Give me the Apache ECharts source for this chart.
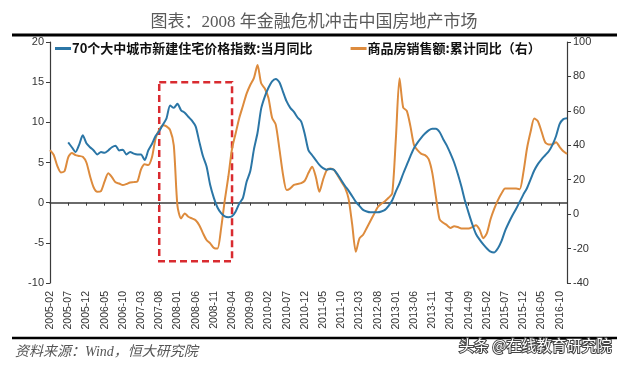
<!DOCTYPE html>
<html>
<head>
<meta charset="utf-8">
<script src="https://cdn.jsdelivr.net/npm/echarts@6/dist/echarts.min.js"></script>
<style>html,body{margin:0;padding:0;background:#fff;}#c{width:628px;height:365px;}</style>
</head>
<body>
<div id="c"></div>
<script>
// Months 2005-02 .. 2016-12
const months = [];
for (let y = 2005; y <= 2016; y++) {
  for (let m = 1; m <= 12; m++) {
    if (y === 2005 && m < 2) continue;
    months.push(y + '-' + (m < 10 ? '0' + m : m));
  }
}

const seriesNames = ['70个大中城市新建住宅价格指数:当月同比', '商品房销售额:累计同比（右）'];

// 70个大中城市新建住宅价格指数:当月同比 (%), left axis
const priceIndex = [
  null, null, null, null, null,
  7.5, 6.9, 6.3, 7.2, 8.4, 7.4, 6.9, 6.5, 6.0, 6.3,
  6.2, 6.5, 6.9, 7.1, 6.5, 6.6, 6.0, 6.3, 6.1, 6.0,
  6.0, 5.3, 6.5, 7.3, 8.3, 8.9, 9.7, 10.5, 12.1, 11.8,
  12.3, 11.5, 11.2, 10.7, 10.2, 9.5, 7.6, 5.8, 4.5, 2.2,
  0.6, -0.6, -1.3, -1.7, -1.8, -1.7, -1.1, -0.1, 0.6, 2.6,
  3.9, 6.6, 8.7, 11.7, 13.2, 14.3, 15.1, 15.4, 15.0, 13.8,
  12.6, 11.8, 11.3, 10.6, 10.1, 8.5, 6.5, 5.9, 5.3, 4.7,
  4.3, 4.1, 4.2, 4.1, 3.5, 2.8, 2.1, 1.5, 0.8, 0.1,
  -0.4, -0.9, -1.1, -1.2, -1.2, -1.2, -1.1, -0.9, -0.4, 0.3,
  1.4, 2.4, 3.6, 4.7, 5.8, 6.8, 7.5, 8.1, 8.6, 9.0,
  9.2, 9.2, 8.8, 7.9, 7.1, 6.1, 5.0, 3.6, 2.0, 0.2,
  -1.3, -2.7, -3.9, -4.6, -5.2, -5.7, -6.1, -6.2, -5.7, -4.8,
  -3.5, -2.5, -1.6, -0.8, 0.1, 1.0, 1.8, 2.9, 4.0, 4.8,
  5.4, 5.9, 6.4, 7.2, 8.3, 9.8, 10.4, 10.5
];

// 商品房销售额:累计同比 (%), right axis
const salesYoY = [
  37.2, 34.5, 28, 24.2, 25, 33, 35.5, 34.3, 33.8, 33.3,
  30, 22, 15.5, 13, 13.4, 19, 23.7, 21.5, 18.5, 17.8,
  16.9, 17.5, 18.4, 18.6, 19, 26, 29, 28.5, 33, 44,
  49, 51.7, 51, 48.8, 40, 5, -2.5, 0.4, -1.5, -2.5,
  -3.5, -6.4, -11, -15, -17, -19.6, -20, -8.3, 8, 22,
  38, 47, 56, 63, 70, 75, 79, 86.6, 76, 73,
  67.5, 56, 52, 38, 23, 14, 15, 17, 17.5, 18,
  19.5, 24, 27.5, 21.7, 13, 20, 25.5, 26.5, 25.6, 22.5,
  19, 15.5, 9, -6, -21.9, -14.1, -12, -8, -4, 0,
  4, 6, 7.5, 9.5, 12, 44, 78.9, 62, 60, 51,
  40, 37, 35, 34.3, 32, 24, 10, -3, -5, -6.4,
  -8, -7, -7.5, -8.3, -8.3, -8.3, -7.5, -6.4, -9, -14,
  -11, -3, 3, 8, 12, 14.9, 14.9, 14.9, 14.9, 14.5,
  24, 38, 47.8, 55.6, 54, 48, 41.7, 40.5, 40.5, 41.7,
  39, 36.5, 35
];

// Highlighted crisis window (dashed box), in data units
const boxMonths = ['2007-08', '2009-04'];
const boxRange = [15, -7.3];

const leftTicks = { min: -10, max: 20, interval: 5 };
const rightTicks = { min: -40, max: 100, interval: 20 };

const chart = echarts.init(document.getElementById('c'), null, { renderer: 'canvas' });
const axisColor = '#3a3a3a';
const lblFont = 'Liberation Sans, Arial, sans-serif';
const blue = '#2b76a6';
const orange = '#dd8b3d';

chart.setOption({
  animation: false,
  backgroundColor: '#fff',
  title: {
    text: '图表：2008 年金融危机冲击中国房地产市场',
    left: 'center', top: 9,
    textStyle: { fontFamily: 'Liberation Serif, Noto Sans CJK SC, serif', fontWeight: 'normal', fontSize: 17, color: '#5a5a5a' }
  },
  legend: {
    top: 37, left: 50, itemGap: 38, itemWidth: 16, itemHeight: 3, icon: 'rect',
    textStyle: { fontFamily: 'Noto Sans CJK SC', fontWeight: 'bold', fontSize: 13, color: '#111', padding: [0, 0, 0, -4] },
    data: seriesNames
  },
  graphic: [
    { type: 'line', shape: { x1: 12, y1: 35, x2: 617, y2: 35 }, style: { stroke: '#000', lineWidth: 3 } },
    { type: 'line', shape: { x1: 12, y1: 338, x2: 617, y2: 338 }, style: { stroke: '#000', lineWidth: 2.5 } },
    { type: 'text', left: 15, top: 345, style: { text: '资料来源：Wind，恒大研究院', fill: '#555', font: 'italic 14px "Liberation Serif", "Noto Sans CJK SC"' } },
    { type: 'text', left: 458, top: 337, style: { text: '头条 @在线教育研究院', fill: '#fff', stroke: '#444', lineWidth: 2, font: '15px "Noto Sans CJK SC"' } }
  ],
  grid: { left: 50, right: 61, top: 42, bottom: 82 },
  xAxis: [
    {
      type: 'category', data: months, boundaryGap: false, position: 'bottom',
      axisLine: { show: false, onZero: false },
      axisTick: { show: false },
      axisLabel: { rotate: 90, interval: 4, fontSize: 10.5, color: '#333', fontFamily: lblFont, margin: 8 }
    },
    {
      type: 'category', data: months, boundaryGap: false, position: 'bottom',
      axisLine: { show: true, onZero: true, lineStyle: { color: axisColor, width: 1.5 } },
      axisTick: { show: true, interval: 4, length: 3, lineStyle: { color: axisColor } },
      axisLabel: { show: false }
    }
  ],
  yAxis: [
    {
      type: 'value', position: 'left', min: leftTicks.min, max: leftTicks.max, interval: leftTicks.interval,
      axisLine: { show: true, lineStyle: { color: axisColor, width: 1.2 } },
      axisTick: { show: true, length: 4, lineStyle: { color: axisColor } },
      splitLine: { show: false },
      axisLabel: { fontSize: 11, color: '#333', fontFamily: lblFont, margin: 6 }
    },
    {
      type: 'value', position: 'right', min: rightTicks.min, max: rightTicks.max, interval: rightTicks.interval,
      axisLine: { show: true, lineStyle: { color: axisColor, width: 1.2 } },
      axisTick: { show: true, length: 4, lineStyle: { color: axisColor } },
      splitLine: { show: false },
      axisLabel: { fontSize: 11, color: '#333', fontFamily: lblFont, margin: 6 }
    }
  ],
  series: [
    {
      name: seriesNames[0], type: 'line', xAxisIndex: 0, yAxisIndex: 0, data: priceIndex,
      symbol: 'none', smooth: 0.25, z: 3,
      lineStyle: { color: blue, width: 2 }, itemStyle: { color: blue },
      markArea: {
        silent: true,
        itemStyle: { color: 'rgba(0,0,0,0)', borderColor: '#d92b30', borderWidth: 2.5, borderType: [7, 4] },
        data: [[{ xAxis: boxMonths[0], yAxis: boxRange[0] }, { xAxis: boxMonths[1], yAxis: boxRange[1] }]]
      }
    },
    {
      name: seriesNames[1], type: 'line', xAxisIndex: 0, yAxisIndex: 1, data: salesYoY,
      symbol: 'none', smooth: 0.25, z: 2,
      lineStyle: { color: orange, width: 2 }, itemStyle: { color: orange }
    }
  ]
});
</script>
</body>
</html>
